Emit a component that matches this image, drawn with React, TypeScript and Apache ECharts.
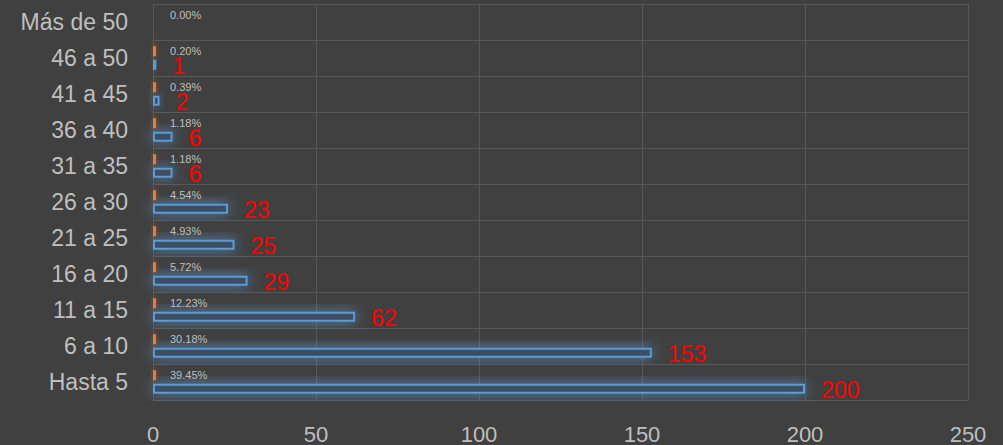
import React, { useEffect, useRef } from "react";
import * as echarts from "echarts";

const categories = ["Hasta 5", "6 a 10", "11 a 15", "16 a 20", "21 a 25", "26 a 30", "31 a 35", "36 a 40", "41 a 45", "46 a 50", "Más de 50"];
const counts = [200, 153, 62, 29, 25, 23, 6, 6, 2, 1, 0];
const shares = [0.3945, 0.3018, 0.1223, 0.0572, 0.0493, 0.0454, 0.0118, 0.0118, 0.0039, 0.002, 0];
const xTicks = [0, 50, 100, 150, 200, 250];

export default function App() {
  const ref = useRef<HTMLDivElement>(null);
  useEffect(() => {
    if (!ref.current) return;
    const chart = echarts.init(ref.current, null, { renderer: "svg" });
    const font = "Liberation Sans";
    chart.setOption({
      animation: false,
      backgroundColor: "#404040",
      grid: { left: 153, right: 35, top: 4, bottom: 45, containLabel: false },
      xAxis: {
        type: "value",
        min: xTicks[0],
        max: xTicks[xTicks.length - 1],
        interval: 50,
        axisLine: { show: false },
        axisTick: { show: false },
        axisLabel: { color: "#bfbfbf", fontSize: 22, fontFamily: font, margin: 23 },
        splitLine: { show: true, lineStyle: { color: "#585858", width: 1 } },
      },
      yAxis: {
        type: "category",
        data: categories,
        axisLine: { show: false },
        axisTick: { show: false },
        axisLabel: { color: "#bfbfbf", fontSize: 23, fontFamily: font, margin: 25 },
        splitLine: { show: true, lineStyle: { color: "#585858", width: 1 } },
      },
      series: [
        {
          type: "bar",
          data: shares.map((v) => (v > 0 ? v : { value: v, itemStyle: { opacity: 0 } })),
          barWidth: 10,
          barGap: "35%",
          barMinHeight: 3,
          itemStyle: {
            color: "#ED7D31",
            shadowBlur: 10,
            shadowColor: "rgba(237,125,49,0.75)",
          },
          label: {
            show: true,
            position: "right",
            distance: 14,
            color: "#bfbfbf",
            fontSize: 11,
            fontFamily: font,
            opacity: 1,
            formatter: (p: any) => (p.value * 100).toFixed(2) + "%",
          },
        },
        {
          type: "bar",
          data: counts,
          barWidth: 10,
          barGap: "35%",
          itemStyle: {
            color: "#3c4e62",
            borderColor: "#5B9BD5",
            borderWidth: 2,
            shadowBlur: 14,
            shadowColor: "rgba(91,155,213,0.8)",
          },
          label: {
            show: true,
            position: "right",
            distance: 16,
            offset: [0, 1],
            color: "#ff0000",
            fontSize: 23,
            fontFamily: font,
            formatter: (p: any) => (p.value ? String(p.value) : ""),
          },
        },
      ],
    });
    return () => chart.dispose();
  }, []);
  return <div ref={ref} style={{ width: 1003, height: 445, position: "absolute", left: 0, top: 0 }} />;
}
